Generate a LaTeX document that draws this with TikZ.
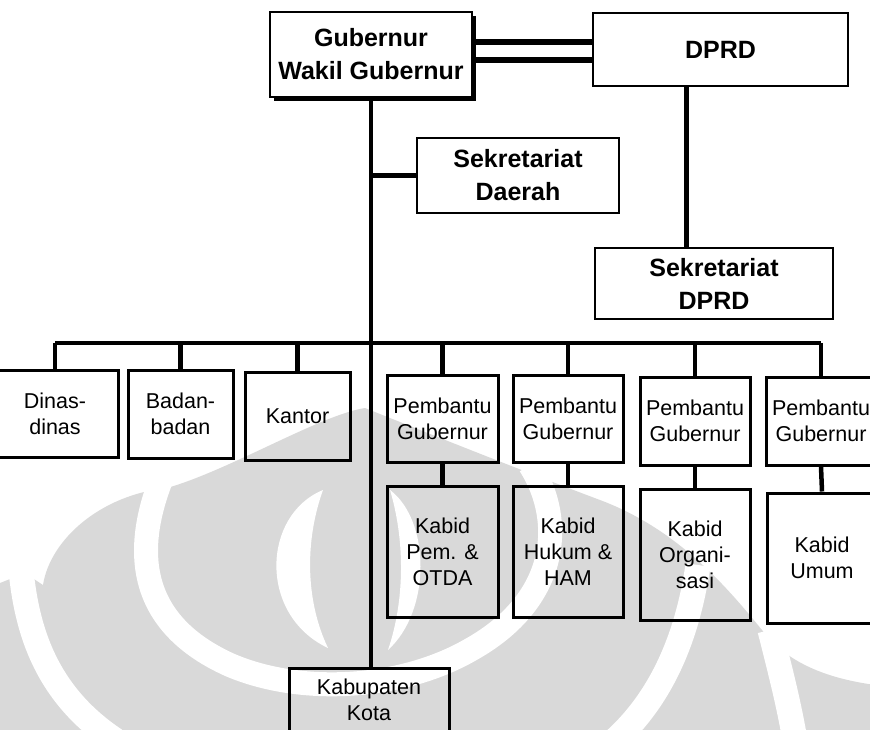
\documentclass[tikz,border=0pt]{standalone}
\usepackage{fontspec}
\setmainfont{Liberation Sans}
\usetikzlibrary{shadows}

\tikzset{
	atas/.style={draw, line width=2.5pt, align=center, inner sep=0pt, font=\bfseries\fontsize{25}{33}\selectfont},
	bawah/.style={draw, line width=3pt, align=center, inner sep=0pt, font=\fontsize{21.5}{26}\selectfont},
	garis/.style={line width=4.5pt},
	tanda/.style={fill=black!15},
	celah/.style={draw=white, line width=25pt},
}

\begin{document}
\begin{tikzpicture}[x=1pt,y=-1pt]
	\useasboundingbox (0,0) rectangle (870,729);
	% logo in the background
	\fill[tanda] (-5,734) -- (-5,585) -- (25,573) -- (43,585) .. controls (50,540) and (100,495) .. (167,488)
		.. controls (230,470) and (320,415) .. (365,408) .. controls (420,430) and (520,470) .. (600,500)
		.. controls (680,530) and (730,590) .. (770,640) .. controls (800,670) and (840,680) .. (875,685) -- (875,734) -- cycle;
	\draw[celah] (20,560) .. controls (25,620) and (40,690) .. (115,740);
	\draw[celah, line width=24pt] (165,470) .. controls (135,540) and (130,620) .. (230,665)
		.. controls (300,695) and (400,690) .. (470,650) .. controls (560,600) and (565,520) .. (530,465);
	\fill[white] (323,490) .. controls (262,515) and (258,615) .. (328,648) .. controls (305,600) and (305,540) .. cycle;
	\fill[white] (390,490) .. controls (430,520) and (432,610) .. (388,650) .. controls (405,600) and (405,540) .. cycle;
	\draw[celah] (698,565) .. controls (690,620) and (670,690) .. (615,740);
	\draw[celah] (770,630) .. controls (780,670) and (788,700) .. (795,740);

	\node[atas, fill=white, minimum width=202pt, minimum height=85pt,
		drop shadow={fill=black, opacity=1, shadow xshift=4pt, shadow yshift=-4pt}] (gub) at (371,54.5) {Gubernur\\Wakil Gubernur};
	\node[atas, minimum width=255pt, minimum height=73pt] (dprd) at (720.5,49.5) {DPRD};
	\node[atas, minimum width=202pt, minimum height=75pt] (sekda) at (518,175.5) {Sekretariat\\Daerah};
	\node[atas, minimum width=238pt, minimum height=71pt] (sekdprd) at (714,283.5) {Sekretariat\\DPRD};

	\node[bawah, minimum width=126pt, minimum height=87pt] (dinas) at (55,413.5) {Dinas-\\dinas};
	\node[bawah, minimum width=105pt, minimum height=88pt] (badan) at (180.5,414) {Badan-\\badan};
	\node[bawah, minimum width=105pt, minimum height=88pt] (kantor) at (297.5,416) {Kantor};
	\node[bawah, minimum width=111pt, minimum height=87pt] (pg1) at (442.5,418.5) {Pembantu\\Gubernur};
	\node[bawah, minimum width=110pt, minimum height=87pt] (pg2) at (568,418.5) {Pembantu\\Gubernur};
	\node[bawah, minimum width=110pt, minimum height=88pt] (pg3) at (695,421) {Pembantu\\Gubernur};
	\node[bawah, minimum width=110pt, minimum height=88pt] (pg4) at (821,421) {Pembantu\\Gubernur};

	\node[bawah, minimum width=111pt, minimum height=131pt] (k1) at (442.5,551.5) {Kabid\\Pem. \&\\OTDA};
	\node[bawah, minimum width=110pt, minimum height=131pt] (k2) at (568,551.5) {Kabid\\Hukum \&\\HAM};
	\node[bawah, minimum width=110pt, minimum height=131pt] (k3) at (695,554.5) {Kabid\\Organi-\\sasi};
	\node[bawah, minimum width=110pt, minimum height=130pt] (k4) at (822,558) {Kabid\\Umum};

	\node[bawah, minimum width=160pt, minimum height=64pt] (kab) at (369,700) {Kabupaten\\Kota};

	% garis penghubung
	\coordinate (bus) at (0,343);
	\coordinate (g1) at ([yshift=12.5pt]gub.east);
	\coordinate (g2) at ([yshift=-5.5pt]gub.east);
	\coordinate (d1) at ([xshift=-34pt]dprd.south);
	\draw[garis, line width=5.5pt] (g1) -- (g1 -| dprd.west);
	\draw[garis, line width=5.5pt] (g2) -- (g2 -| dprd.west);
	\draw[garis] (d1) -- (d1 |- sekdprd.north);
	\draw[garis] (gub.south) -- (gub.south |- kab.north);
	\draw[garis] (gub.south |- sekda.west) -- (sekda.west);
	\draw[garis] (dinas.north |- bus) -- (pg4.north |- bus);
	\foreach \n in {dinas,badan,kantor,pg1,pg2,pg3,pg4}
		\draw[garis] (\n.north |- bus) -- (\n.north);
	\foreach \i in {1,...,4}
		\draw[garis] (pg\i.south) -- (k\i.north);
\end{tikzpicture}
\end{document}
